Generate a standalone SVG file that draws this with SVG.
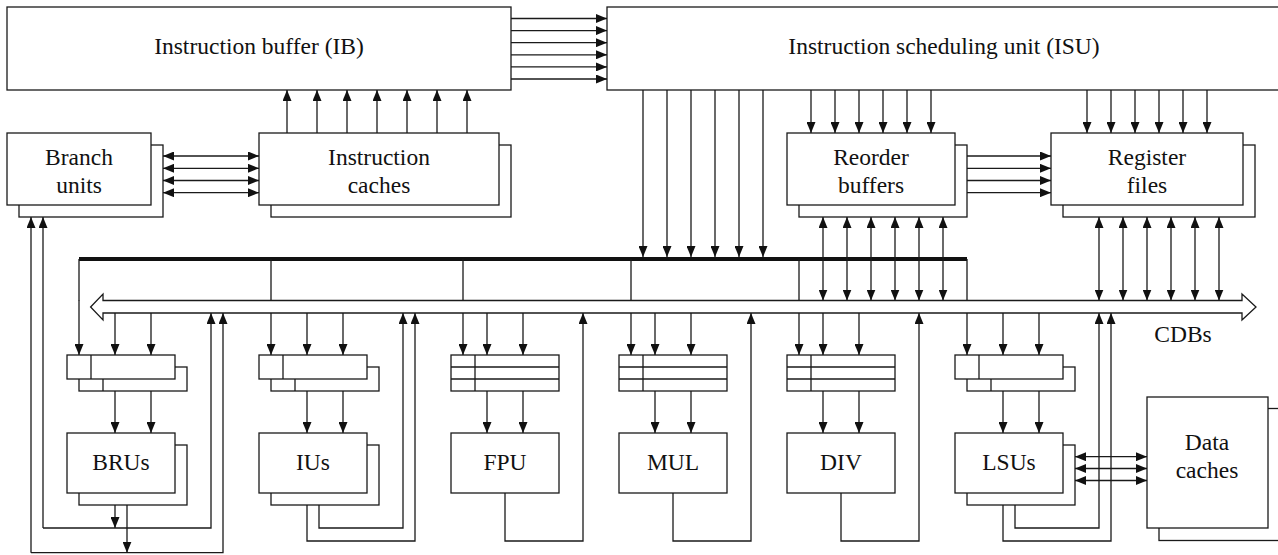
<svg xmlns="http://www.w3.org/2000/svg" width="1278" height="555" viewBox="0 0 1278 555">
<defs>
<marker id="ah" markerUnits="userSpaceOnUse" markerWidth="11" markerHeight="9" refX="11" refY="4.5" orient="auto-start-reverse">
<path d="M0,0 L11,4.5 L0,9 Z" fill="#111"/>
</marker>
<style>
.b{fill:#fff;stroke:#1a1a1a;stroke-width:1.3}
.l{fill:none;stroke:#1a1a1a;stroke-width:1.3}
.a{fill:none;stroke:#1a1a1a;stroke-width:1.3;marker-end:url(#ah)}
.d{fill:none;stroke:#1a1a1a;stroke-width:1.3;marker-start:url(#ah);marker-end:url(#ah)}
.t{stroke:#111;stroke-width:4}
text{font-family:"Liberation Serif","Times New Roman",serif;font-size:23.5px;fill:#111;text-anchor:middle}
</style>
</defs>
<rect width="1278" height="555" fill="#fff"/>

<g id="ib"><rect class="b" x="7" y="7" width="504" height="83"/><text x="259" y="54">Instruction buffer (IB)</text></g>
<g id="isu"><rect class="b" x="607" y="7" width="700" height="83"/><text x="944" y="54">Instruction scheduling unit (ISU)</text></g>
<g id="branch-units"><rect class="b" x="19" y="145" width="144" height="72"/><rect class="b" x="7" y="133" width="144" height="72"/><text x="79" y="165">Branch</text><text x="79" y="193">units</text></g>
<g id="icaches"><rect class="b" x="271" y="145" width="240" height="72"/><rect class="b" x="259" y="133" width="240" height="72"/><text x="379" y="165">Instruction</text><text x="379" y="193">caches</text></g>
<g id="rob"><rect class="b" x="799" y="145" width="168" height="72"/><rect class="b" x="787" y="133" width="168" height="72"/><text x="871" y="165">Reorder</text><text x="871" y="193">buffers</text></g>
<g id="regfiles"><rect class="b" x="1063" y="145" width="192" height="72"/><rect class="b" x="1051" y="133" width="192" height="72"/><text x="1147" y="165">Register</text><text x="1147" y="193">files</text></g>

<g id="rs-bru"><rect class="b" x="79" y="367" width="108" height="24"/><line class="l" x1="103" y1="379" x2="103" y2="391"/><rect class="b" x="67" y="355" width="108" height="24"/><line class="l" x1="91" y1="355" x2="91" y2="379"/></g>
<g id="rs-iu"><rect class="b" x="271" y="367" width="108" height="24"/><line class="l" x1="295" y1="379" x2="295" y2="391"/><rect class="b" x="259" y="355" width="108" height="24"/><line class="l" x1="283" y1="355" x2="283" y2="379"/></g>
<g id="rs-fpu"><rect class="b" x="451" y="355" width="108" height="36"/><path class="l" d="M451,367H559M451,379H559M475,355V391"/></g>
<g id="rs-mul"><rect class="b" x="619" y="355" width="108" height="36"/><path class="l" d="M619,367H727M619,379H727M643,355V391"/></g>
<g id="rs-div"><rect class="b" x="787" y="355" width="108" height="36"/><path class="l" d="M787,367H895M787,379H895M811,355V391"/></g>
<g id="rs-lsu"><rect class="b" x="967" y="367" width="108" height="24"/><line class="l" x1="991" y1="379" x2="991" y2="391"/><rect class="b" x="955" y="355" width="108" height="24"/><line class="l" x1="979" y1="355" x2="979" y2="379"/></g>

<g id="brus"><rect class="b" x="79" y="445" width="108" height="60"/><rect class="b" x="67" y="433" width="108" height="60"/><text x="121" y="470">BRUs</text></g>
<g id="ius"><rect class="b" x="271" y="445" width="108" height="60"/><rect class="b" x="259" y="433" width="108" height="60"/><text x="313" y="470">IUs</text></g>
<g id="fpu"><rect class="b" x="451" y="433" width="108" height="60"/><text x="505" y="470">FPU</text></g>
<g id="mul"><rect class="b" x="619" y="433" width="108" height="60"/><text x="673" y="470">MUL</text></g>
<g id="div"><rect class="b" x="787" y="433" width="108" height="60"/><text x="841" y="470">DIV</text></g>
<g id="lsus"><rect class="b" x="967" y="445" width="108" height="60"/><rect class="b" x="955" y="433" width="108" height="60"/><text x="1009" y="470">LSUs</text></g>
<g id="dcaches"><rect class="b" x="1159" y="408.5" width="140" height="132"/><rect class="b" x="1147" y="397" width="121" height="131"/><text x="1207" y="450">Data</text><text x="1207" y="478">caches</text></g>

<g id="connectors">
<path class="a" d="M511,18.5H607"/><path class="a" d="M511,30.6H607"/><path class="a" d="M511,42.7H607"/><path class="a" d="M511,54.8H607"/><path class="a" d="M511,66.9H607"/><path class="a" d="M511,79H607"/>
<path class="a" d="M287,133V90"/><path class="a" d="M317,133V90"/><path class="a" d="M347,133V90"/><path class="a" d="M377,133V90"/><path class="a" d="M407,133V90"/><path class="a" d="M437,133V90"/><path class="a" d="M467,133V90"/>
<path class="d" d="M163,156H259"/><path class="d" d="M163,168.3H259"/><path class="d" d="M163,180.5H259"/><path class="d" d="M163,192.7H259"/>
<path class="a" d="M643,90V257"/><path class="a" d="M667,90V257"/><path class="a" d="M691,90V257"/><path class="a" d="M715,90V257"/><path class="a" d="M739,90V257"/><path class="a" d="M763,90V257"/>
<path class="a" d="M811,90V133"/><path class="a" d="M835,90V133"/><path class="a" d="M859,90V133"/><path class="a" d="M883,90V133"/><path class="a" d="M907,90V133"/><path class="a" d="M931,90V133"/>
<path class="a" d="M1087,90V133"/><path class="a" d="M1111,90V133"/><path class="a" d="M1135,90V133"/><path class="a" d="M1159,90V133"/><path class="a" d="M1183,90V133"/><path class="a" d="M1207,90V133"/>
<path class="a" d="M967,156H1051"/><path class="a" d="M967,168.3H1051"/><path class="a" d="M967,180.5H1051"/><path class="a" d="M967,192.7H1051"/>
<line class="t" x1="79" y1="259" x2="967" y2="259"/>
<path class="l" d="M79,259V300.5M271,259V300.5M463,259V300.5M631,259V300.5M799,259V300.5M967,259V300.5"/>
<path class="d" d="M823,217V300.5"/><path class="d" d="M847,217V300.5"/><path class="d" d="M871,217V300.5"/><path class="d" d="M895,217V300.5"/><path class="d" d="M919,217V300.5"/><path class="d" d="M943,217V300.5"/>
<path class="d" d="M1099,217V300.5"/><path class="d" d="M1123,217V300.5"/><path class="d" d="M1147,217V300.5"/><path class="d" d="M1171,217V300.5"/><path class="d" d="M1195,217V300.5"/><path class="d" d="M1219,217V300.5"/>
<polygon class="b" points="90.6,307 103,294 103,300.5 1242,300.5 1242,294 1256,307 1242,320 1242,313 103,313 103,320"/>
<path class="a" d="M79,300V355"/>
<path class="a" d="M115,313V355"/><path class="a" d="M151,313V355"/>
<path class="a" d="M271,313V355"/><path class="a" d="M307,313V355"/><path class="a" d="M343,313V355"/>
<path class="a" d="M463,313V355"/><path class="a" d="M487,313V355"/><path class="a" d="M523,313V355"/>
<path class="a" d="M631,313V355"/><path class="a" d="M655,313V355"/><path class="a" d="M691,313V355"/>
<path class="a" d="M799,313V355"/><path class="a" d="M823,313V355"/><path class="a" d="M859,313V355"/>
<path class="a" d="M967,313V355"/><path class="a" d="M1003,313V355"/><path class="a" d="M1039,313V355"/>
<path class="a" d="M115,391V433"/><path class="a" d="M151,391V433"/>
<path class="a" d="M307,391V433"/><path class="a" d="M343,391V433"/>
<path class="a" d="M487,391V433"/><path class="a" d="M523,391V433"/>
<path class="a" d="M655,391V433"/><path class="a" d="M691,391V433"/>
<path class="a" d="M823,391V433"/><path class="a" d="M859,391V433"/>
<path class="a" d="M1003,391V433"/><path class="a" d="M1039,391V433"/>
<path class="a" d="M43,528H211V313"/>
<path class="a" d="M43,528V217"/>
<path class="a" d="M31,552.7H223V313"/>
<path class="a" d="M31,552.7V217"/>
<path class="a" d="M115,505V528"/>
<path class="a" d="M127,505V552.7"/>
<path class="a" d="M319,505V528H403V313"/>
<path class="a" d="M307,505V541H415V313"/>
<path class="a" d="M505,493V541H583V313"/>
<path class="a" d="M673,493V541H751V313"/>
<path class="a" d="M841,493V541H919V313"/>
<path class="a" d="M1015,505V528H1099V313"/>
<path class="a" d="M1003,505V541H1111V313"/>
<path class="d" d="M1075,456.7H1147"/><path class="d" d="M1075,468.5H1147"/><path class="d" d="M1075,480.5H1147"/>
</g>
<text x="1183" y="342">CDBs</text>
</svg>
